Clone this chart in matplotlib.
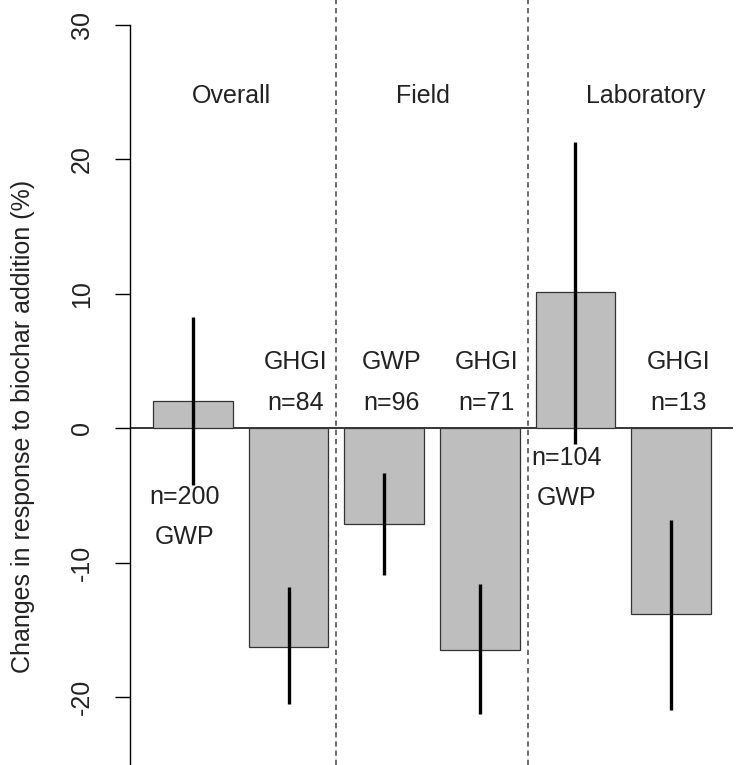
import matplotlib
matplotlib.use("Agg")
import matplotlib.pyplot as plt

# data
groups = ["Overall", "Field", "Laboratory"]
metrics = ["GWP", "GHGI", "GWP", "GHGI", "GWP", "GHGI"]
n_obs = [200, 84, 96, 71, 104, 13]
means = [2.0, -16.3, -7.1, -16.5, 10.1, -13.8]
ci_low = [-4.2, -20.5, -10.9, -21.3, -1.2, -21.0]
ci_high = [8.3, -11.8, -3.3, -11.6, 21.3, -6.8]

plt.rcParams["font.family"] = ["Liberation Sans", "DejaVu Sans"]
txt_color = "#222222"
fs = 18

fig = plt.figure(figsize=(7.41, 7.65), dpi=100)
ax = fig.add_axes([130 / 741, 0, 603 / 741, 1])

# R barplot style positions: width 1, space 0.2
xpos = [0.7 + 1.2 * i for i in range(len(means))]

ax.axhline(0, color="black", lw=1.1, zorder=1)
ax.bar(xpos, means, width=1.0, color="#bebebe", edgecolor="#333333",
       linewidth=0.9, zorder=2)
ax.vlines(xpos, ci_low, ci_high, color="black", lw=2.4, zorder=3)

# group separators
for xs in [2.5, 4.9]:
    ax.axvline(xs, color="#444444", lw=1.1, ls=(0, (3.5, 2.5)), zorder=1)

# group titles
for g, gx in zip(groups, [1.19, 3.59, 6.38]):
    ax.text(gx, 24.7, g, ha="center", va="center", fontsize=fs, color=txt_color)

# bar labels: two lines, above zero for negative bars, below for the others
for i, (m, n) in enumerate(zip(metrics, n_obs)):
    if means[i] < 0:
        ax.text(xpos[i] + 0.09, 4.9, m, ha="center", va="center",
                fontsize=fs, color=txt_color)
        ax.text(xpos[i] + 0.09, 1.85, f"n={n}", ha="center", va="center",
                fontsize=fs, color=txt_color)
    else:
        top = -5.1 if i == 0 else -2.2
        ax.text(xpos[i] - 0.11, top, f"n={n}", ha="center", va="center",
                fontsize=fs, color=txt_color)
        ax.text(xpos[i] - 0.11, top - 3.0, m, ha="center", va="center",
                fontsize=fs, color=txt_color)

ax.set_xlim(-0.0886, 7.476)
ax.set_ylim(-25.06, 31.86)
ax.set_yticks([-20, -10, 0, 10, 20, 30])
ax.set_yticklabels(["-20", "-10", "0", "10", "20", "30"], rotation=90,
                   va="center", fontsize=fs, color=txt_color)
ax.tick_params(axis="y", length=11, width=1, pad=15, colors="black",
               labelcolor=txt_color)
ax.set_xticks([])
for s in ["top", "right", "bottom"]:
    ax.spines[s].set_visible(False)
ax.spines["left"].set_bounds(-25.06, 30)
ax.spines["left"].set_linewidth(1)
ax.set_ylabel("Changes in response to biochar addition (%)", fontsize=fs,
              color=txt_color)
ax.yaxis.set_label_coords(-0.157, 0.442)

fig.savefig("out.png", dpi=100)
